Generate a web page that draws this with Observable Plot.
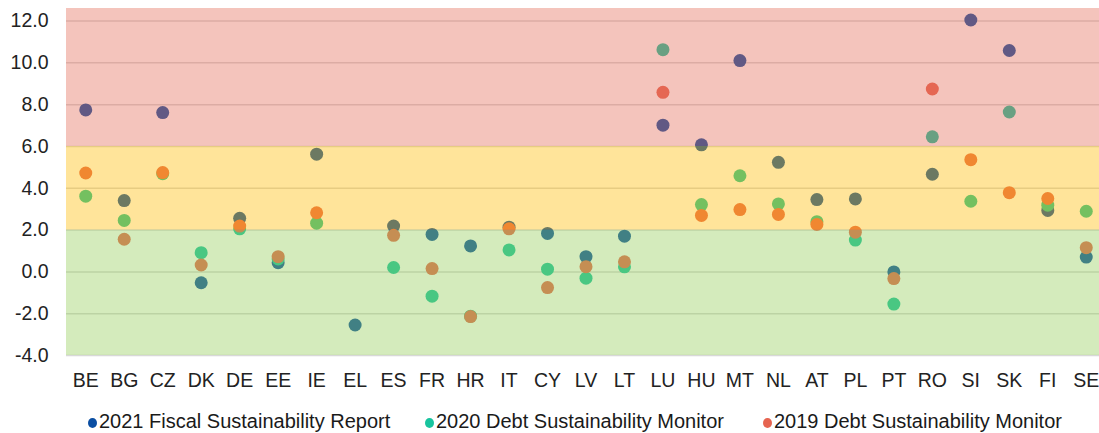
<!DOCTYPE html>
<html>
<head>
<meta charset="utf-8">
<script src="https://cdn.jsdelivr.net/npm/d3@7"></script>
<script src="https://cdn.jsdelivr.net/npm/@observablehq/plot@0.6"></script>
<style>
  html, body { margin: 0; padding: 0; background: #fff; }
  #wrap { position: relative; width: 1099px; height: 433px; overflow: hidden; font-family: "Liberation Sans", Arial, sans-serif; }
  .leg { position: absolute; top: 409px; font-size: 20px; color: #1a1a1a; line-height: 24px; white-space: nowrap; }
  .leg .dot { display: inline-block; width: 9px; height: 10px; border-radius: 50%; margin-right: 2px; vertical-align: 0px; }
</style>
</head>
<body>
<div id="wrap"></div>
<script>
const countries = ["BE","BG","CZ","DK","DE","EE","IE","EL","ES","FR","HR","IT","CY","LV","LT","LU","HU","MT","NL","AT","PL","PT","RO","SI","SK","FI","SE"];
const fsr2021 = [7.75, 3.41, 7.62, -0.52, 2.56, 0.44, 5.63, -2.54, 2.19, 1.79, 1.24, 2.14, 1.84, 0.73, 1.71, 7.02, 6.08, 10.11, 5.24, 3.46, 3.49, 0.0, 4.67, 12.05, 10.59, 2.94, 0.71];
const dsm2020 = [3.62, 2.46, 4.70, 0.92, 2.06, 0.62, 2.33, null, 0.21, -1.16, -2.12, 1.05, 0.13, -0.30, 0.24, 10.63, 3.22, 4.60, 3.25, 2.40, 1.52, -1.54, 6.46, 3.38, 7.65, 3.19, 2.90];
const dsm2019 = [4.73, 1.56, 4.75, 0.33, 2.19, 0.73, 2.83, null, 1.75, 0.16, -2.14, 2.06, -0.75, 0.25, 0.48, 8.59, 2.70, 2.98, 2.75, 2.27, 1.90, -0.32, 8.75, 5.37, 3.79, 3.51, 1.16];
const seriesNames = ["2021 Fiscal Sustainability Report", "2020 Debt Sustainability Monitor", "2019 Debt Sustainability Monitor"];
const seriesColors = ["#0a4ea2", "#18c49e", "#e66450"];
const yTicks = [-4, -2, 0, 2, 4, 6, 8, 10, 12];
const bandLow = [-4, 2, 6];
const bandHigh = [2, 6, 12.6];
const bandColors = ["#93cd57", "#ffbb02", "#e46c58"];

const seriesValues = [fsr2021, dsm2020, dsm2019];
const points = [];
seriesValues.forEach((vals, s) => vals.forEach((v, i) => {
  if (v != null) points.push({country: countries[i], value: v, series: seriesNames[s]});
}));
const bands = bandLow.map((lo, i) => ({lo, hi: bandHigh[i], color: bandColors[i]}));

const chart = Plot.plot({
  width: 1099,
  height: 400,
  marginLeft: 66,
  marginRight: -6,
  marginTop: 8,
  marginBottom: 45,
  style: {fontFamily: "'Liberation Sans', Arial, sans-serif", fontSize: "19.5px", color: "#222", background: "transparent"},
  x: {type: "point", domain: countries, padding: 0.5, round: false, label: null},
  y: {domain: [-4, 12.6], label: null},
  color: {domain: seriesNames, range: seriesColors},
  marks: [
    Plot.ruleY(yTicks, {stroke: "#d8d8d8", strokeWidth: 1.5}),
    ...seriesNames.map(name => Plot.dot(points.filter(d => d.series === name), {x: "country", y: "value", fill: "series", r: 6.5})),
    Plot.rect(bands, {y1: "lo", y2: "hi", fill: "color", fillOpacity: 0.4}),
    Plot.axisY({ticks: yTicks, tickSize: 0, tickPadding: 18, tickFormat: d => d.toFixed(1), fontSize: 19.5}),
    Plot.axisX({tickSize: 0, tickPadding: 18, fontSize: 19.5})
  ]
});
const wrap = document.getElementById("wrap");
wrap.appendChild(chart);

const legLefts = [88, 425, 763];
seriesNames.forEach((name, i) => {
  const el = document.createElement("div");
  el.className = "leg";
  el.style.left = legLefts[i] + "px";
  el.innerHTML = `<span class="dot" style="background:${seriesColors[i]}"></span>${name}`;
  wrap.appendChild(el);
});
</script>
</body>
</html>
